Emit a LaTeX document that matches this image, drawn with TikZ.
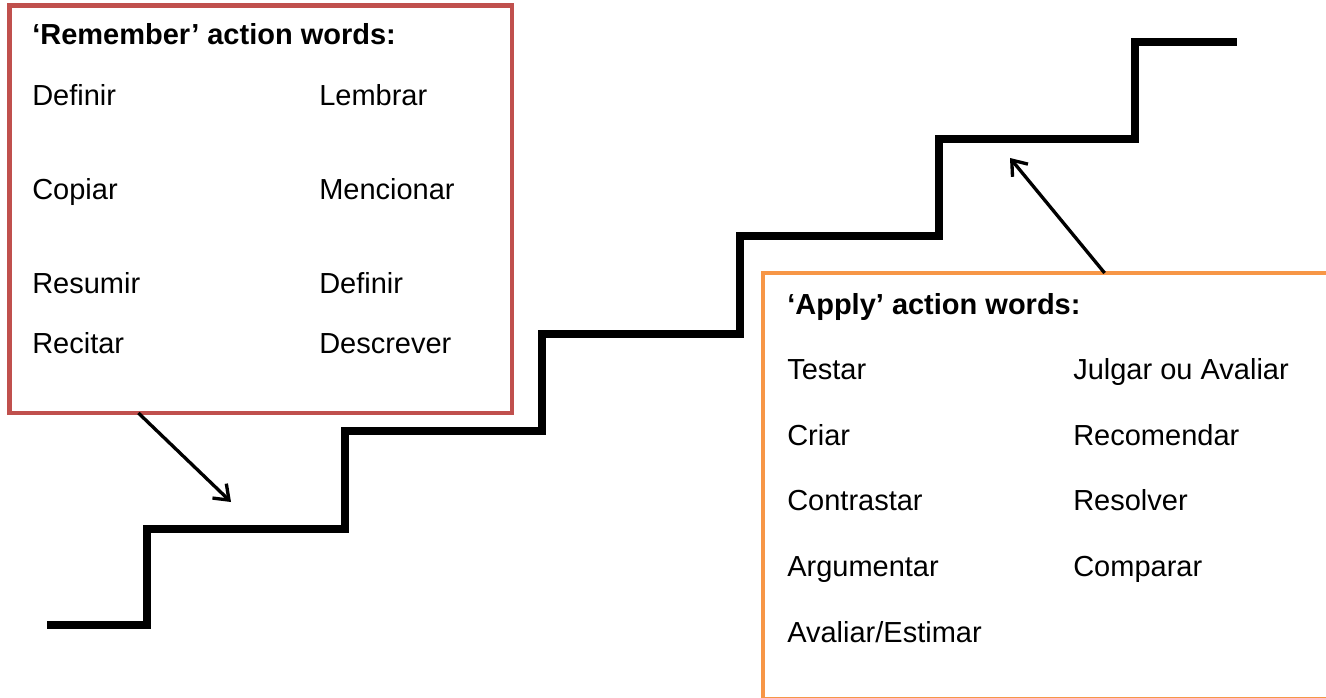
\documentclass[tikz,border=0pt]{standalone}
\usepackage{fontspec}
\setmainfont{Liberation Sans}
\usetikzlibrary{arrows.meta}
\definecolor{remred}{HTML}{C0504D}
\definecolor{applyorange}{HTML}{F79646}

\begin{document}
\begin{tikzpicture}[x=0.75pt,y=-0.75pt,
    wordbox/.style={draw,line width=3.4pt,inner sep=0pt,outer sep=0pt,anchor=north west},
    word/.style={anchor=base west,inner sep=0pt,font=\fontsize{21.75}{26}\selectfont},
    heading/.style={word,font=\fontsize{21.75}{26}\selectfont\bfseries},
    stairline/.style={line width=5.6pt},
    pointer/.style={line width=2.5pt,-{Straight Barb[length=10pt,width=15pt]}}]

      \useasboundingbox (0,0) rectangle (1326,698);
      \clip (0,0) rectangle (1326,698);

      % the stairs
      \draw[stairline] (47,625) -| (147,529) -| (345,431) -| (542,334) -| (740,236) -| (939,139) -| (1135,42) -- (1237,42);

      % remember box
      \node[wordbox,draw=remred,minimum width=376.9pt,minimum height=305.6pt] (remember) at (9.5,5.5) {};
      \node[heading] (remhead) at (32,45) {`Remember' action words:};
      \node[word] (remdefinir) at (32,106) {Definir};
      \node[word] (remlembrar) at (319,106) {Lembrar};
      \node[word] (remcopiar) at (32,200) {Copiar};
      \node[word] (remmencionar) at (319,200) {Mencionar};
      \node[word] (remresumir) at (32,294) {Resumir};
      \node[word] (remdefinirb) at (319,294) {Definir};
      \node[word] (remrecitar) at (32,353) {Recitar};
      \node[word] (remdescrever) at (319,353) {Descrever};

      % apply box
      \node[wordbox,draw=applyorange,minimum width=426.8pt,minimum height=319.5pt] (apply) at (763,273) {};
      \node[heading] (applyhead) at (787,315) {`Apply' action words:};
      \node[word] (apptestar) at (787,379) {Testar};
      \node[word] (appjulgar) at (1073,379) {Julgar ou Avaliar};
      \node[word] (appcriar) at (787,445) {Criar};
      \node[word] (apprecomendar) at (1073,445) {Recomendar};
      \node[word] (appcontrastar) at (787,510) {Contrastar};
      \node[word] (appresolver) at (1073,510) {Resolver};
      \node[word] (appargumentar) at (787,576) {Argumentar};
      \node[word] (appcomparar) at (1073,576) {Comparar};
      \node[word] (appavaliar) at (787,642) {Avaliar/Estimar};

      % pointers onto the steps
      \coordinate (remtarget) at (231,502);
      \coordinate (applytarget) at (1010,158);
      \draw[pointer] (remember.239) -- (remtarget);
      \draw[pointer] (apply.75) -- (applytarget);

    \end{tikzpicture}
\end{document}
